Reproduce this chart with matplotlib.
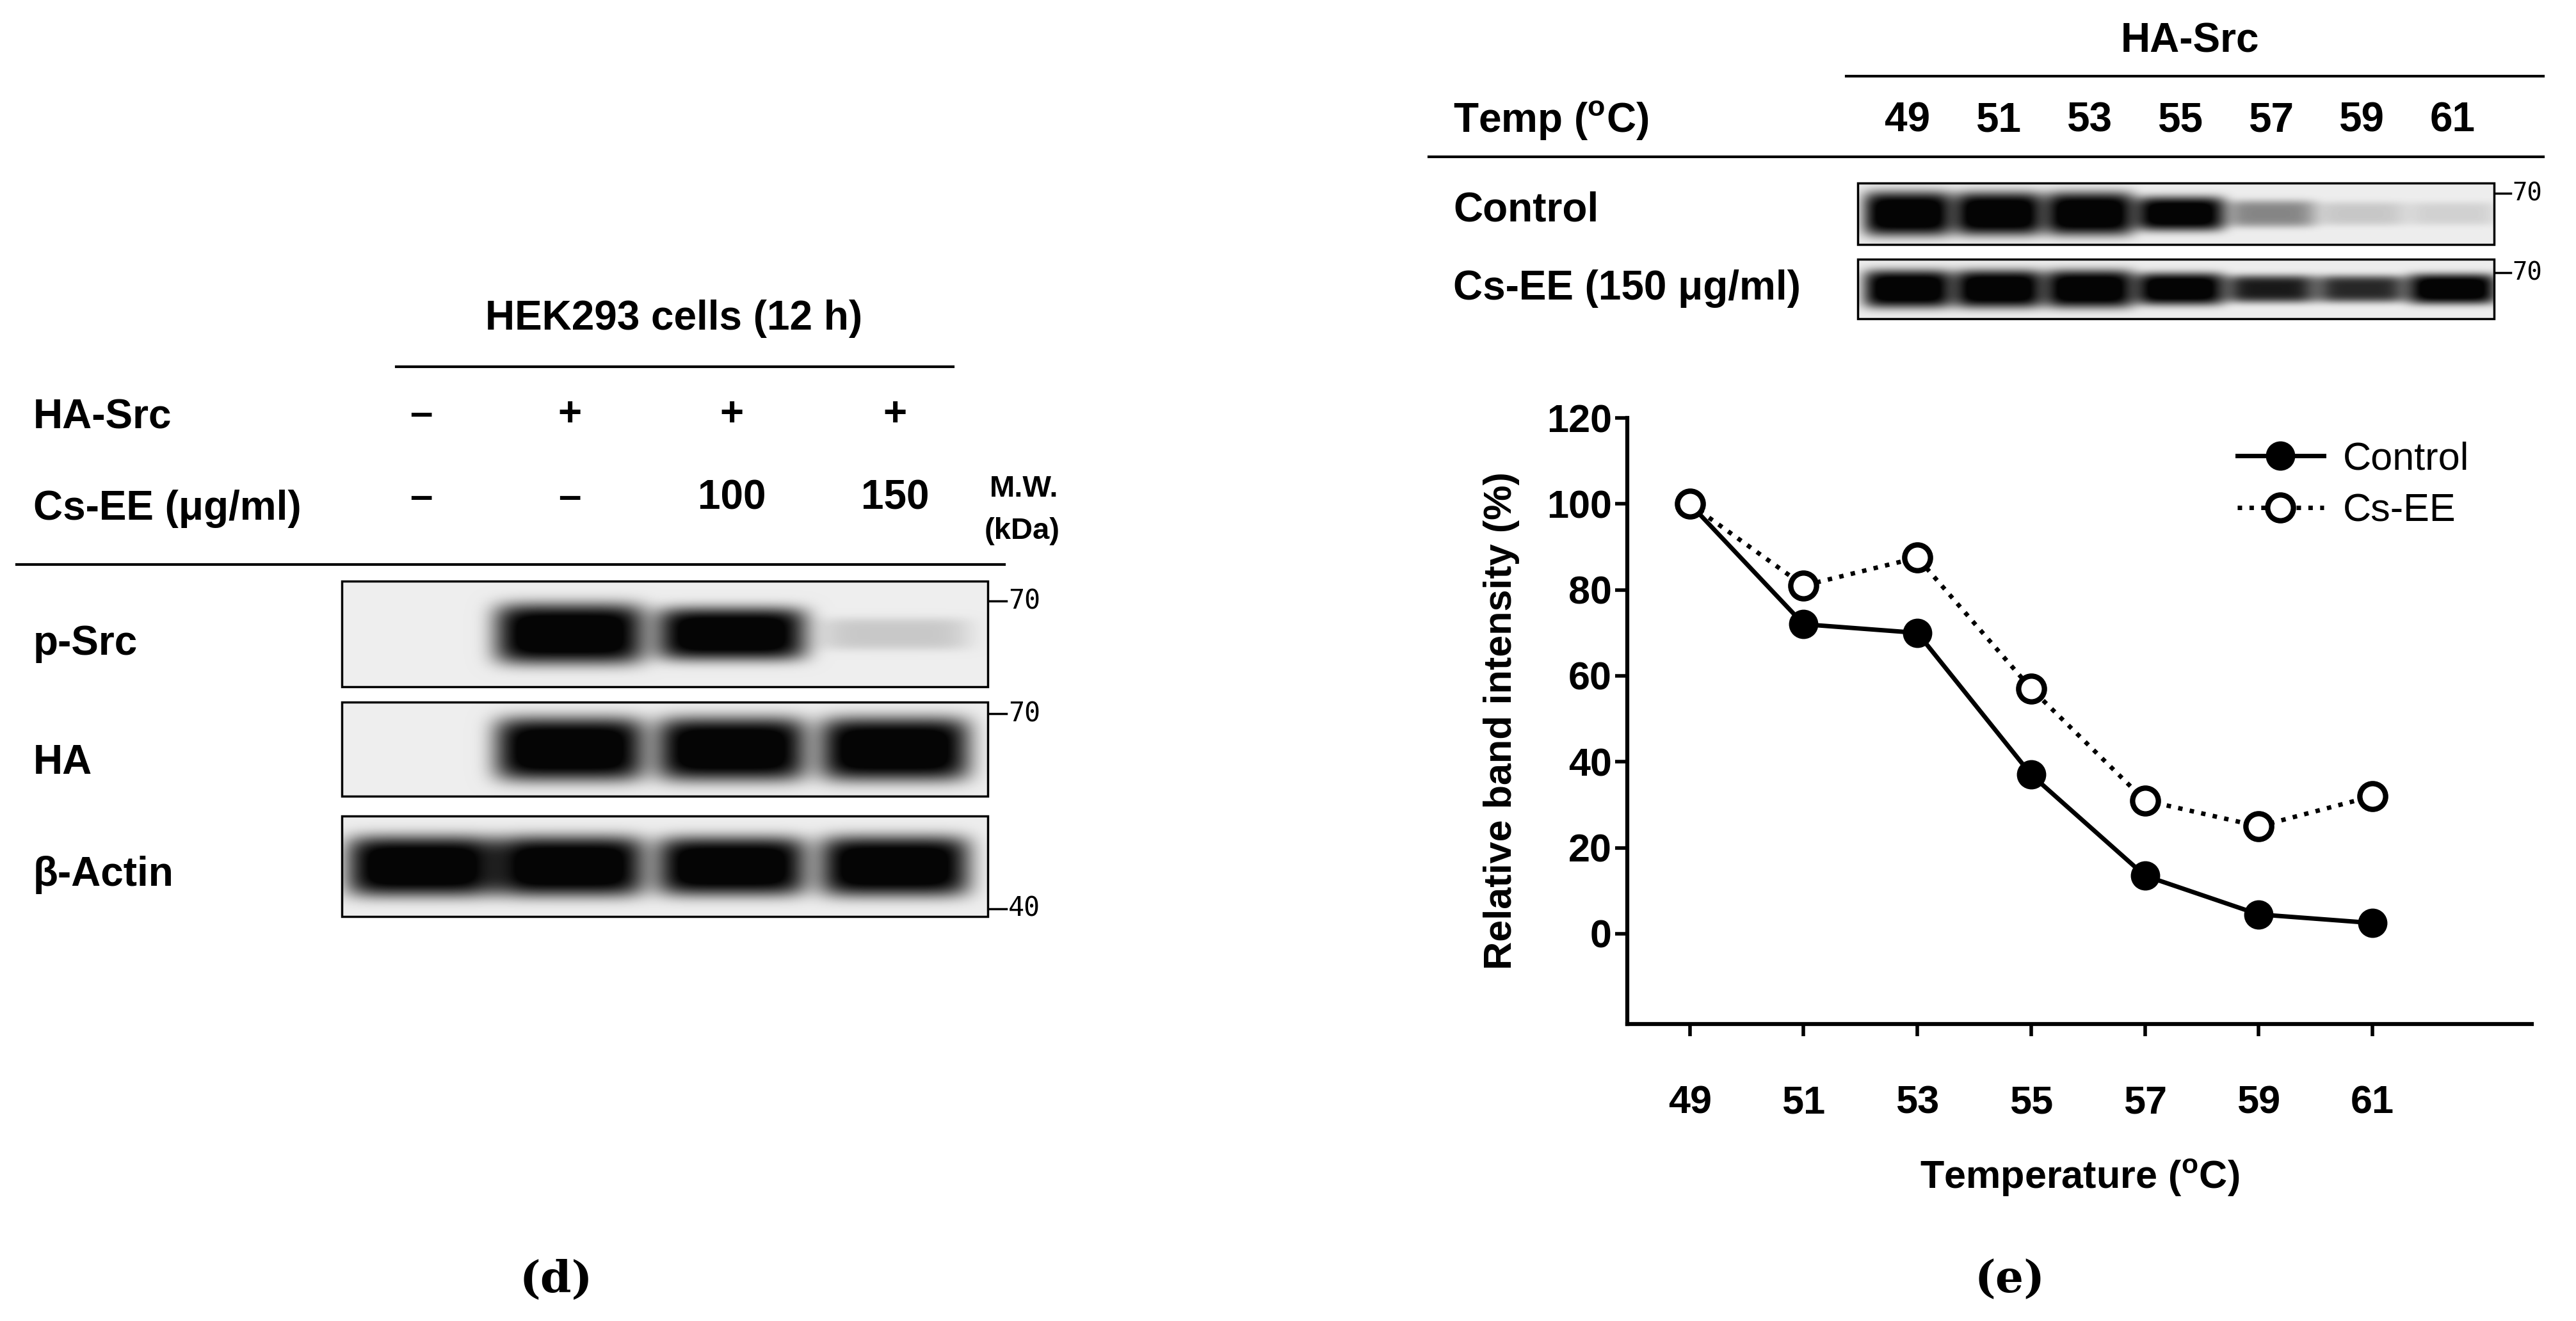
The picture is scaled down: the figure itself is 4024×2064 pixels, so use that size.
import numpy as np
import matplotlib
matplotlib.use('Agg')
import matplotlib.pyplot as plt

plt.rcParams['font.family'] = ['Liberation Sans', 'DejaVu Sans']
plt.rcParams['mathtext.fontset'] = 'custom'
plt.rcParams['mathtext.bf'] = 'Liberation Sans:bold'

# ---- data ----
temps = [49, 51, 53, 55, 57, 59, 61]
control = [100, 72, 70, 37, 13.5, 4.5, 2.5]
cs_ee = [100, 81, 87.5, 57, 31, 25, 32]

# band strengths (0 = none, 1 = saturated)
psrc_bands = [0.0, 1.0, 0.75, 0.08]
ha_bands = [0.0, 1.0, 1.0, 1.1]
actin_bands = [1.0, 1.0, 0.95, 1.0]
ctrl_bands = [1.0, 0.95, 0.95, 0.55, 0.22, 0.08, 0.06]
csee_bands = [1.0, 1.0, 1.05, 0.7, 0.45, 0.42, 0.6]

ha_src_row = ['\u2013', '+', '+', '+']
cs_ee_row = ['\u2013', '\u2013', '100', '150']

W, H = 4024, 2064
fig = plt.figure(figsize=(W / 100, H / 100), dpi=100)
ov = fig.add_axes([0, 0, 1, 1])
ov.set_xlim(0, W)
ov.set_ylim(H, 0)
ov.axis('off')


def blot(x0, x1, y0, y1, centers, bands, bw, bh, bg=0.93):
    nx, ny = int(x1 - x0), int(y1 - y0)
    xx, yy = np.meshgrid(np.linspace(x0, x1, nx), np.linspace(y0, y1, ny))
    dark = np.zeros_like(xx)
    yc = (y0 + y1) / 2
    for c, s in zip(centers, bands):
        if s <= 0:
            continue
        prof = np.exp(-(np.abs((xx - c) / (bw / 2)) ** 6 + np.abs((yy - yc) / (bh / 2 * min(1, 0.5 + 0.5 * s))) ** 4))
        dark += prof * min(1.0, s * 1.8)
    img = np.clip(bg - dark * bg * 1.1, 0.02, 1)
    ov.imshow(img, cmap='gray', vmin=0, vmax=1, extent=(x0, x1, y1, y0), aspect='auto', zorder=1)
    ov.add_patch(plt.Rectangle((x0, y0), x1 - x0, y1 - y0, fill=False, lw=2.5, ec='black', zorder=2))


bold = dict(fontweight='bold', color='black')
fs = 46

# ---- panel (d) ----
lanes_d = [658, 890, 1143, 1398]
ov.text(1053, 498, 'HEK293 cells (12 h)', ha='center', va='center', fontsize=fs, **bold)
ov.plot([619, 1489], [573, 573], color='black', lw=3)
ov.text(52, 653, 'HA-Src', ha='left', va='center', fontsize=fs, **bold)
ov.text(52, 795, 'Cs-EE (μg/ml)', ha='left', va='center', fontsize=fs, **bold)
for x, a, b in zip(lanes_d, ha_src_row, cs_ee_row):
    ov.text(x, 648, a, ha='center', va='center', fontsize=fs, **bold)
    ov.text(x, 778, b, ha='center', va='center', fontsize=fs, **bold)
ov.text(1546, 764, 'M.W.', ha='left', va='center', fontsize=34, **bold)
ov.text(1538, 830, '(kDa)', ha='left', va='center', fontsize=34, **bold)
ov.plot([26, 1569], [882, 882], color='black', lw=3)

blot(534, 1543, 908, 1073, lanes_d, psrc_bands, 235, 95)
blot(534, 1543, 1097, 1244, lanes_d, ha_bands, 235, 100)
blot(534, 1543, 1275, 1432, lanes_d, actin_bands, 235, 95)
ov.text(52, 1006, 'p-Src', ha='left', va='center', fontsize=fs, **bold)
ov.text(52, 1192, 'HA', ha='left', va='center', fontsize=fs, **bold)
ov.text(52, 1367, 'β-Actin', ha='left', va='center', fontsize=fs, **bold)
for y, lab in [(939, '70'), (1115, '70'), (1420, '40')]:
    ov.plot([1545, 1572], [y, y], color='black', lw=2.5)
    ov.text(1575, y, lab, ha='left', va='center', fontsize=30, family='DejaVu Sans Mono')

# ---- panel (e) blots ----
lanes_e = [2980, 3122, 3264, 3406, 3548, 3689, 3831]
ov.text(3421, 65, 'HA-Src', ha='center', va='center', fontsize=fs, **bold)
ov.plot([2884, 3973], [119, 119], color='black', lw=3)
ov.text(2270, 188, r'Temp ($^{\mathbf{o}}$C)', ha='left', va='center', fontsize=fs, **bold)
for x, t in zip(lanes_e, temps):
    ov.text(x, 188, str(t), ha='center', va='center', fontsize=fs, **bold)
ov.plot([2232, 3973], [245, 245], color='black', lw=3)
blot(2902, 3896, 286, 382, lanes_e, ctrl_bands, 140, 70)
blot(2902, 3896, 405, 498, lanes_e, csee_bands, 140, 60)
ov.text(2270, 328, 'Control', ha='left', va='center', fontsize=fs, **bold)
ov.text(2270, 451, 'Cs-EE (150 μg/ml)', ha='left', va='center', fontsize=fs, **bold)
for y in [302, 426]:
    ov.plot([3898, 3922], [y, y], color='black', lw=2.5)
    ov.text(3924, y, '70', ha='left', va='center', fontsize=28, family='DejaVu Sans Mono')

ov.text(869, 2000, '(d)', ha='center', va='center', fontsize=50, family='DejaVu Serif', fontweight='bold')
ov.text(3140, 2000, '(e)', ha='center', va='center', fontsize=50, family='DejaVu Serif', fontweight='bold')

# ---- panel (e) line chart ----
ax = fig.add_axes([2542 / W, 1 - 1600 / H, (3955 - 2542) / W, (1600 - 653) / H])
ax.patch.set_alpha(0)
ax.plot(temps, control, '-o', color='black', lw=5, ms=32, mfc='black', mec='black', label='Control', clip_on=False)
ax.plot(temps, cs_ee, ':o', color='black', lw=5, ms=29, mfc='white', mec='black', mew=6, label='Cs-EE', clip_on=False)
ax.set_xlim(47.9, 63.8)
ax.set_ylim(-21, 120)
ax.set_yticks([0, 20, 40, 60, 80, 100, 120])
ax.set_xticks(temps)
for s in ['top', 'right']:
    ax.spines[s].set_visible(False)
for s in ['left', 'bottom']:
    ax.spines[s].set_linewidth(4.5)
ax.spines['left'].set_bounds(-21, 120)
ax.tick_params(axis='both', width=4, length=14, labelsize=44)
ax.tick_params(axis='x', pad=55)
for lab in ax.get_xticklabels() + ax.get_yticklabels():
    lab.set_fontweight('bold')
ax.set_ylabel('Relative band intensity (%)', fontsize=44, fontweight='bold', labelpad=30)
ax.set_xlabel(r'Temperature ($^{\mathbf{o}}$C)', fontsize=44, fontweight='bold', labelpad=40)
ax.legend(loc='upper right', bbox_to_anchor=(0.97, 1.02), frameon=False, fontsize=44,
          handlelength=2.2, handletextpad=0.5, labelspacing=0.4)

fig.savefig('out.png', dpi=100, facecolor='white')
